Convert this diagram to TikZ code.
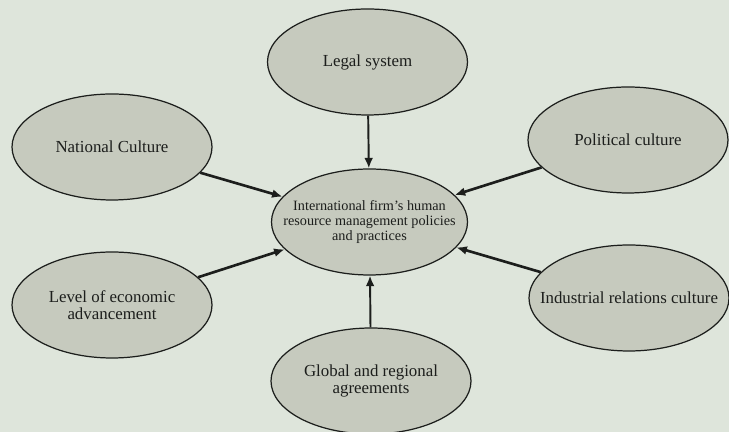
\documentclass[tikz,border=0pt]{standalone}
\usepackage{fontspec}
\setmainfont{Liberation Serif}
\usetikzlibrary{%
  arrows.meta,%
  shapes.geometric,% wg. ellipse
  positioning%
}
\definecolor{pagebg}{RGB}{222,229,219}
\definecolor{blobfill}{RGB}{198,202,190}
\definecolor{ink}{RGB}{28,30,28}

\begin{document}
\begin{tikzpicture}[
    >={Latex[length=6pt,width=5pt]},thick,
    blobtext/.style={align=center,inner sep=0pt,text=ink,
        font=\fontsize{9.6}{10}\selectfont},
    coretext/.style={blobtext,font=\fontsize{8.1}{8.6}\selectfont},
    factor/.style={ellipse,draw=ink,line width=0.7pt,fill=blobfill,
        minimum width=4cm,minimum height=2.12cm,inner sep=0pt,
        label={[blobtext]center:#1}},
    core/.style={ellipse,draw=ink,line width=0.7pt,fill=blobfill,
        minimum width=3.92cm,minimum height=2.12cm,inner sep=0pt,
        label={[coretext]center:#1}},
    influence/.style={->,draw=ink,line width=1.5pt},
    straight/.style={influence,line width=1.1pt}
  ]

    \fill[pagebg] (0,0) rectangle (14.58,8.64);
    \useasboundingbox (0,0) rectangle (14.58,8.64);

    \node [core={International firm's human\\resource management policies\\and practices}] (hrm) at (7.39,4.20) {};
    \node [factor={Legal system}]                     (legal)      at (7.35,7.40) {};
    \node [factor={National Culture}]                 (national)   at (2.24,5.70) {};
    \node [factor={Political culture}]                (political)  at (12.56,5.84) {};
    \node [factor={Level of economic\\advancement}]   (economic)   at (2.24,2.54) {};
    \node [factor={Industrial relations culture}]     (industrial) at (12.58,2.68) {};
    \node [factor={Global and regional\\agreements}]  (global)     at (7.42,1.02) {};

    % arrows into the centre
    \draw [straight] (legal) -- (hrm);
    \draw [straight] (global) -- (hrm);
    \draw [influence] (national) -- (hrm);
    \draw [influence] (political) -- (hrm);
    \draw [influence] (economic) -- (hrm);
    \draw [influence] (industrial) -- (hrm);
\end{tikzpicture}
\end{document}
